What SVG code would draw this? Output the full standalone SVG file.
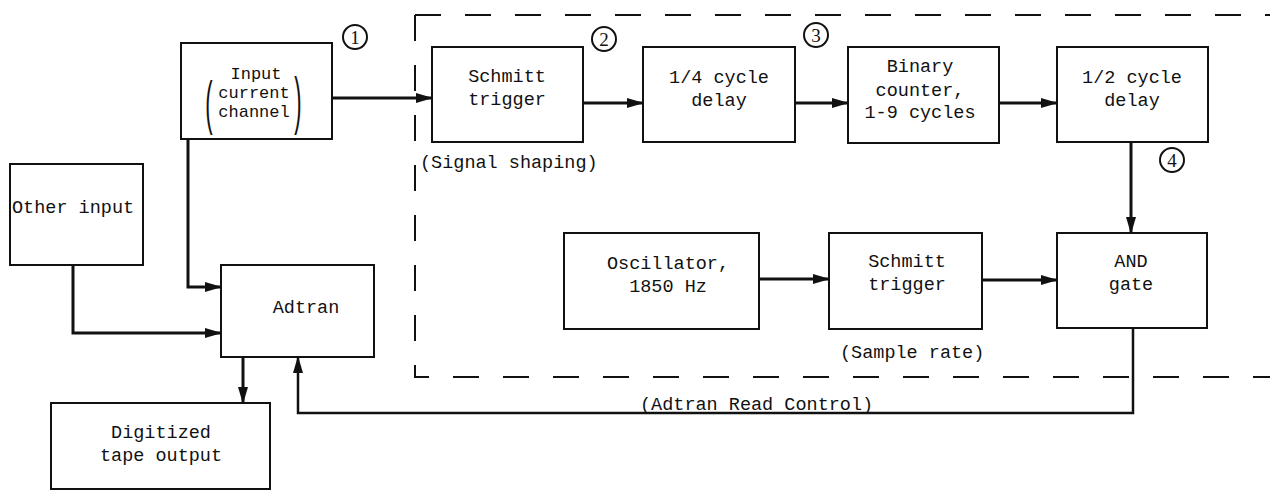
<svg xmlns="http://www.w3.org/2000/svg" width="1270" height="490" viewBox="0 0 1270 490">
<style>
.box{fill:#fff;stroke:#111;stroke-width:2}
.t{font-family:"Liberation Mono","DejaVu Sans Mono",monospace;font-size:18.5px;fill:#111;text-anchor:middle}
.ts{font-family:"Liberation Mono","DejaVu Sans Mono",monospace;font-size:17px;fill:#111;text-anchor:middle}
.tl{font-family:"Liberation Mono","DejaVu Sans Mono",monospace;font-size:18.5px;fill:#111}
.w{fill:none;stroke:#111;stroke-width:3}
.thin{fill:none;stroke:#111;stroke-width:2.5}
.dash{fill:none;stroke:#111;stroke-width:2;stroke-dasharray:26 24}
.num{fill:none;stroke:#111;stroke-width:2}
.nt{font-family:"Liberation Serif","DejaVu Serif",serif;font-size:19px;fill:#111;text-anchor:middle}
.paren{font-family:"Liberation Sans","DejaVu Sans",sans-serif;font-size:22px;fill:#111;text-anchor:middle}
</style>
<defs>
<marker id="ah" viewBox="0 0 17 10" markerUnits="userSpaceOnUse" markerWidth="17" markerHeight="10" refX="16" refY="5" orient="auto">
<path d="M0,0 L17,5 L0,10 z" fill="#111"/>
</marker>
</defs>

<g id="frame">
<path class="dash" d="M415,15 H1270"/>
<path class="dash" d="M415,15 V377 H1270"/>
</g>

<g id="connectors">
<path class="w" d="M332,98 H432" marker-end="url(#ah)"/>
<path class="w" d="M583,103 H643" marker-end="url(#ah)"/>
<path class="w" d="M795,103 H848" marker-end="url(#ah)"/>
<path class="w" d="M999,103 H1057" marker-end="url(#ah)"/>
<path class="w" d="M1131,142 V233" marker-end="url(#ah)"/>
<path class="w" d="M759,279 H829" marker-end="url(#ah)"/>
<path class="w" d="M982,280 H1057" marker-end="url(#ah)"/>
<path class="w" d="M188,139 V287 H221" marker-end="url(#ah)"/>
<path class="w" d="M73,265 V333 H221" marker-end="url(#ah)"/>
<path class="w" d="M243,357 V403" marker-end="url(#ah)"/>
<path class="thin" d="M1133,328 V413 H298 V357" marker-end="url(#ah)"/>
<text class="tl" x="640" y="410">(Adtran Read Control)</text>
</g>

<g id="input">
<rect class="box" x="181" y="43" width="151" height="96"/>
<text class="ts" x="256" y="79">Input</text>
<text class="ts" x="254" y="98">current</text>
<text class="ts" x="254" y="117">channel</text>
<text class="paren" transform="translate(209,123) scale(1,2.7)">(</text>
<text class="paren" transform="translate(298,122) scale(1,2.9)">)</text>
</g>

<g id="n1">
<circle class="num" cx="355" cy="37" r="12"/>
<text class="nt" x="355" y="44">1</text>
</g>

<g id="schmitt1">
<rect class="box" x="432" y="47" width="151" height="95"/>
<text class="t" x="507" y="82">Schmitt</text>
<text class="t" x="507" y="105">trigger</text>
<text class="tl" x="420" y="168">(Signal shaping)</text>
</g>

<g id="n2">
<circle class="num" cx="604" cy="39" r="12"/>
<text class="nt" x="604" y="46">2</text>
</g>

<g id="quarter">
<rect class="box" x="643" y="47" width="152" height="95"/>
<text class="t" x="719" y="83">1/4 cycle</text>
<text class="t" x="719" y="106">delay</text>
</g>

<g id="n3">
<circle class="num" cx="816" cy="35" r="12"/>
<text class="nt" x="816" y="42">3</text>
</g>

<g id="counter">
<rect class="box" x="848" y="47" width="151" height="96"/>
<text class="t" x="920" y="72">Binary</text>
<text class="t" x="920" y="96">counter,</text>
<text class="t" x="920" y="118">1-9 cycles</text>
</g>

<g id="half">
<rect class="box" x="1057" y="47" width="151" height="95"/>
<text class="t" x="1132" y="83">1/2 cycle</text>
<text class="t" x="1132" y="106">delay</text>
</g>

<g id="n4">
<circle class="num" cx="1172" cy="160" r="12"/>
<text class="nt" x="1172" y="167">4</text>
</g>

<g id="osc">
<rect class="box" x="564" y="233" width="195" height="96"/>
<text class="t" x="668" y="269">Oscillator,</text>
<text class="t" x="668" y="292">1850 Hz</text>
</g>

<g id="schmitt2">
<rect class="box" x="829" y="233" width="153" height="96"/>
<text class="t" x="907" y="267">Schmitt</text>
<text class="t" x="907" y="290">trigger</text>
<text class="tl" x="840" y="358">(Sample rate)</text>
</g>

<g id="and">
<rect class="box" x="1057" y="233" width="150" height="95"/>
<text class="t" x="1131" y="267">AND</text>
<text class="t" x="1131" y="290">gate</text>
</g>

<g id="other">
<rect class="box" x="10" y="164" width="133" height="101"/>
<text class="tl" x="12" y="213">Other input</text>
</g>

<g id="adtran">
<rect class="box" x="221" y="265" width="153" height="92"/>
<text class="t" x="306" y="313">Adtran</text>
</g>

<g id="tape">
<rect class="box" x="51" y="403" width="219" height="86"/>
<text class="t" x="161" y="438">Digitized</text>
<text class="t" x="161" y="461">tape output</text>
</g>
</svg>
